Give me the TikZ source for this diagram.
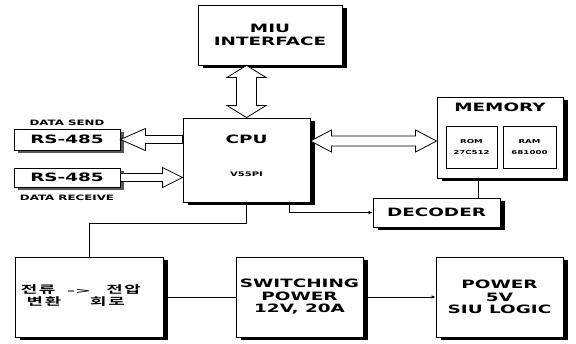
\documentclass[tikz,border=0pt]{standalone}
\usepackage{fontspec}
\usepackage{graphicx}
\usetikzlibrary{calc,shadows,arrows.meta}
\newfontfamily\wf{DejaVu Sans}[UprightFont=* Bold, FakeStretch=1.6]
\newfontfamily\kr{Noto Sans CJK KR Bold}
% double block arrow: #1 start, #2 end, #3 shaft half width, #4 head half width, #5 head length
\newcommand\dblarrow[5]{%
  \filldraw[blk] (#1)
  -- ($(#1)!#5!(#2)!#4!90:(#2)$)
  -- ($(#1)!#5!(#2)!#3!90:(#2)$)
  -- ($(#2)!#5!(#1)!#3!-90:(#1)$)
  -- ($(#2)!#5!(#1)!#4!-90:(#1)$)
  -- (#2)
  -- ($(#2)!#5!(#1)!#4!90:(#1)$)
  -- ($(#2)!#5!(#1)!#3!90:(#1)$)
  -- ($(#1)!#5!(#2)!#3!-90:(#2)$)
  -- ($(#1)!#5!(#2)!#4!-90:(#2)$)
  -- cycle;}
% single block arrow, head at #2
\newcommand\sglarrow[5]{%
  \filldraw[blk] ($(#1)!#3!90:(#2)$)
  -- ($(#2)!#5!(#1)!#3!-90:(#1)$)
  -- ($(#2)!#5!(#1)!#4!-90:(#1)$)
  -- (#2)
  -- ($(#2)!#5!(#1)!#4!90:(#1)$)
  -- ($(#2)!#5!(#1)!#3!90:(#1)$)
  -- ($(#1)!#3!-90:(#2)$)
  -- cycle;}
\begin{document}
\begin{tikzpicture}[x=1pt,y=-1pt,
  box/.style={draw, line width=0.9pt, fill=white, rectangle, inner sep=0pt,
    drop shadow={shadow xshift=5pt, shadow yshift=-3pt, fill=black, opacity=1}},
  lightbox/.style={draw, line width=0.9pt, fill=white, rectangle, inner sep=0pt,
    drop shadow={shadow xshift=4pt, shadow yshift=-3pt, fill=black!65, opacity=1}},
  sub/.style={draw, line width=0.8pt, fill=white, rectangle, inner sep=0pt},
  big/.style={font=\wf\fontsize{11.5}{12.5}\selectfont, align=center},
  small/.style={font=\wf\fontsize{7.4}{8}\selectfont},
  tiny/.style={font=\wf\fontsize{5.4}{11}\selectfont, align=center},
  blk/.style={draw, fill=white, line width=0.8pt, line join=miter},
  ln/.style={draw, line width=0.8pt},
  tip/.style={-{Latex[length=4pt,width=3.5pt]}}
]
\path[use as bounding box] (0,0) rectangle (576,344);

% boxes
\node[box, big, minimum width=144pt, minimum height=60pt] (miu) at (270,35) {MIU\\INTERFACE};
\node[box, minimum width=127pt, minimum height=84pt] (cpu) at (246.5,160) {};
\node[big] (cputxt) at ($(cpu.north)+(0,22)$) {CPU};
\node[font=\wf\fontsize{6.3}{7}\selectfont] (cpuchip) at ($(cpu.north)+(0,57)$) {V55PI};

\node[lightbox, big, minimum width=106pt, minimum height=21pt] (send) at (67,139.5) {RS-485};
\node[lightbox, big, minimum width=106pt, minimum height=19pt] (recv) at (67,177.5) {RS-485};
\node[small] (sendlbl) at ($(send.north)+(0,-6)$) {DATA SEND};
\node[small] (recvlbl) at ($(recv.south)+(0,10)$) {DATA RECEIVE};

\node[box, minimum width=126pt, minimum height=81pt] (mem) at (500,137.5) {};
\node[big] (memtxt) at ($(mem.north)+(0,11)$) {MEMORY};
\node[sub, tiny, minimum width=51pt, minimum height=42pt] (rom) at (471.5,147) {ROM\\27C512};
\node[sub, tiny, minimum width=53pt, minimum height=42pt] (ram) at (529.5,147) {RAM\\681000};

\node[box, big, minimum width=127pt, minimum height=29pt] (dec) at (436.5,212.5) {DECODER};

\node[box, minimum width=148pt, minimum height=80pt] (conv) at (89,297) {};
\node[anchor=west, inner sep=0pt] (convtxt) at ($(conv.west)+(6,0)$)
  {\scalebox{1.7}[1]{\kr\fontsize{10.5}{11}\selectfont
   \begin{tabular}{@{}l@{}}
   전\kern1pt류\hspace{7pt}{\wf\fontsize{7}{7}\selectfont ->}\hspace{9pt}전\kern1pt압\\
   \hspace{3.5pt}변\kern1pt환\hspace{17pt}회\kern1pt로
   \end{tabular}}};
\node[box, big, minimum width=127pt, minimum height=80pt] (sw) at (299.5,297) {SWITCHING\\POWER\\12V, 20A};
\node[box, big, minimum width=127pt, minimum height=80pt] (pwr) at (499.5,297) {POWER\\5V\\SIU LOGIC};

% block arrows
\coordinate (miuA) at (cpu.north |- miu.south);
\dblarrow{miuA}{cpu.north}{10pt}{19.5pt}{12pt}
\coordinate (cA) at ($(cpu.east)+(0,-19)$);
\coordinate (mA) at (cA -| mem.west);
\dblarrow{cA}{mA}{5pt}{11pt}{21pt}
\coordinate (sA) at (cpu.west |- send.east);
\sglarrow{sA}{send.east}{4pt}{11pt}{25pt}
\coordinate (rA) at (cpu.west |- recv.east);
\sglarrow{recv.east}{rA}{4pt}{10pt}{20pt}

% thin connectors
\coordinate (cpuD) at ($(cpu.south east)+(-21,0)$);
\draw[ln, tip] (cpuD) |- (dec.west);
\coordinate (memD) at ($(mem.south)+(-22,0)$);
\draw[ln] (memD) -- (memD |- dec.north);
\draw[ln] (cpu.south) -- ++(0,21) -| (conv.north);
\draw[ln] (conv.east) -- (sw.west);
\draw[ln, tip] (sw.east) -- (pwr.west);
\end{tikzpicture}
\end{document}
